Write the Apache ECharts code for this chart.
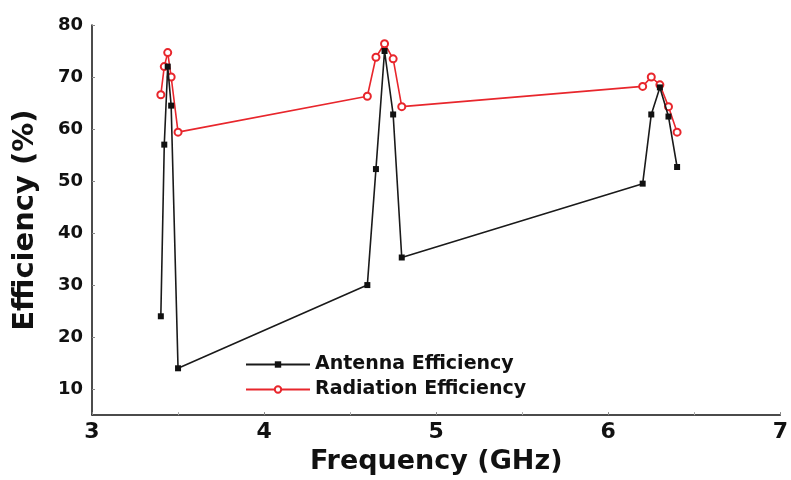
<!DOCTYPE html>
<html>
<head>
<meta charset="utf-8">
<script src="https://cdn.jsdelivr.net/npm/echarts@6/dist/echarts.min.js"></script>
<style>
  html, body { margin: 0; padding: 0; background: #fff; }
  #chart { width: 791px; height: 480px; }
</style>
</head>
<body>
<div id="chart"></div>
<script>
// frequency (GHz) of the sample points
const freqs = [3.40, 3.42, 3.44, 3.46, 3.50, 4.60, 4.65, 4.70, 4.75, 4.80, 6.20, 6.25, 6.30, 6.35, 6.40];
// efficiency values (%)
const antennaEff = [24, 57, 72, 64.5, 14, 30, 52.3, 75, 62.8, 35.3, 49.5, 62.8, 68, 62.4, 52.7];
const radiationEff = [66.6, 72, 74.7, 70, 59.4, 66.3, 73.8, 76.4, 73.5, 64.3, 68.2, 70, 68.5, 64.3, 59.4];
const yTicks = [10, 20, 30, 40, 50, 60, 70, 80];

const font = 'DejaVu Sans';

const chart = echarts.init(document.getElementById('chart'));

const option = {
  animation: false,
  grid: { left: 92, right: 6, top: 25, bottom: 62 },
  legend: {
    data: ['Antenna Efficiency', 'Radiation Efficiency'],
    orient: 'vertical',
    left: 240,
    top: 350,
    itemWidth: 64,
    itemHeight: 8,
    itemGap: 6,
    textStyle: { fontFamily: font, fontWeight: 'bold', fontSize: 19, color: '#111' }
  },
  xAxis: {
    type: 'value',
    min: 3,
    max: 7,
    interval: 1,
    name: 'Frequency (GHz)',
    nameLocation: 'middle',
    nameGap: 30,
    nameTextStyle: { fontFamily: font, fontWeight: 'bold', fontSize: 27, color: '#111' },
    axisLine: { lineStyle: { color: '#111', width: 1.5 } },
    axisTick: { inside: true, length: 3, lineStyle: { color: '#888' } },
    minorTick: { show: true, splitNumber: 2, length: 3, lineStyle: { color: '#aaa' } },
    splitLine: { show: false },
    axisLabel: { fontFamily: font, fontWeight: 'bold', fontSize: 22, color: '#111', margin: 6 }
  },
  yAxis: {
    type: 'value',
    min: 5,
    max: 80,
    name: 'Efficiency (%)',
    nameLocation: 'middle',
    nameGap: 52,
    nameTextStyle: { fontFamily: font, fontWeight: 'bold', fontSize: 29, color: '#111' },
    axisLine: { show: true, lineStyle: { color: '#111', width: 1.5 } },
    axisTick: { show: true, inside: true, length: 3, customValues: yTicks, lineStyle: { color: '#888' } },
    splitLine: { show: false },
    axisLabel: { customValues: yTicks, fontFamily: font, fontWeight: 'bold', fontSize: 18, color: '#111', margin: 9 }
  },
  series: [
    {
      name: 'Radiation Efficiency',
      type: 'line',
      data: freqs.map((f, i) => [f, radiationEff[i]]),
      symbol: 'emptyCircle',
      symbolSize: 7,
      lineStyle: { color: '#e8262c', width: 1.6 },
      itemStyle: { color: '#e8262c', borderWidth: 1 },
      z: 2
    },
    {
      name: 'Antenna Efficiency',
      type: 'line',
      data: freqs.map((f, i) => [f, antennaEff[i]]),
      symbol: 'rect',
      symbolSize: 6,
      lineStyle: { color: '#1a1a1a', width: 1.6 },
      itemStyle: { color: '#111' },
      z: 3
    }
  ]
};

chart.setOption(option);
</script>
</body>
</html>
